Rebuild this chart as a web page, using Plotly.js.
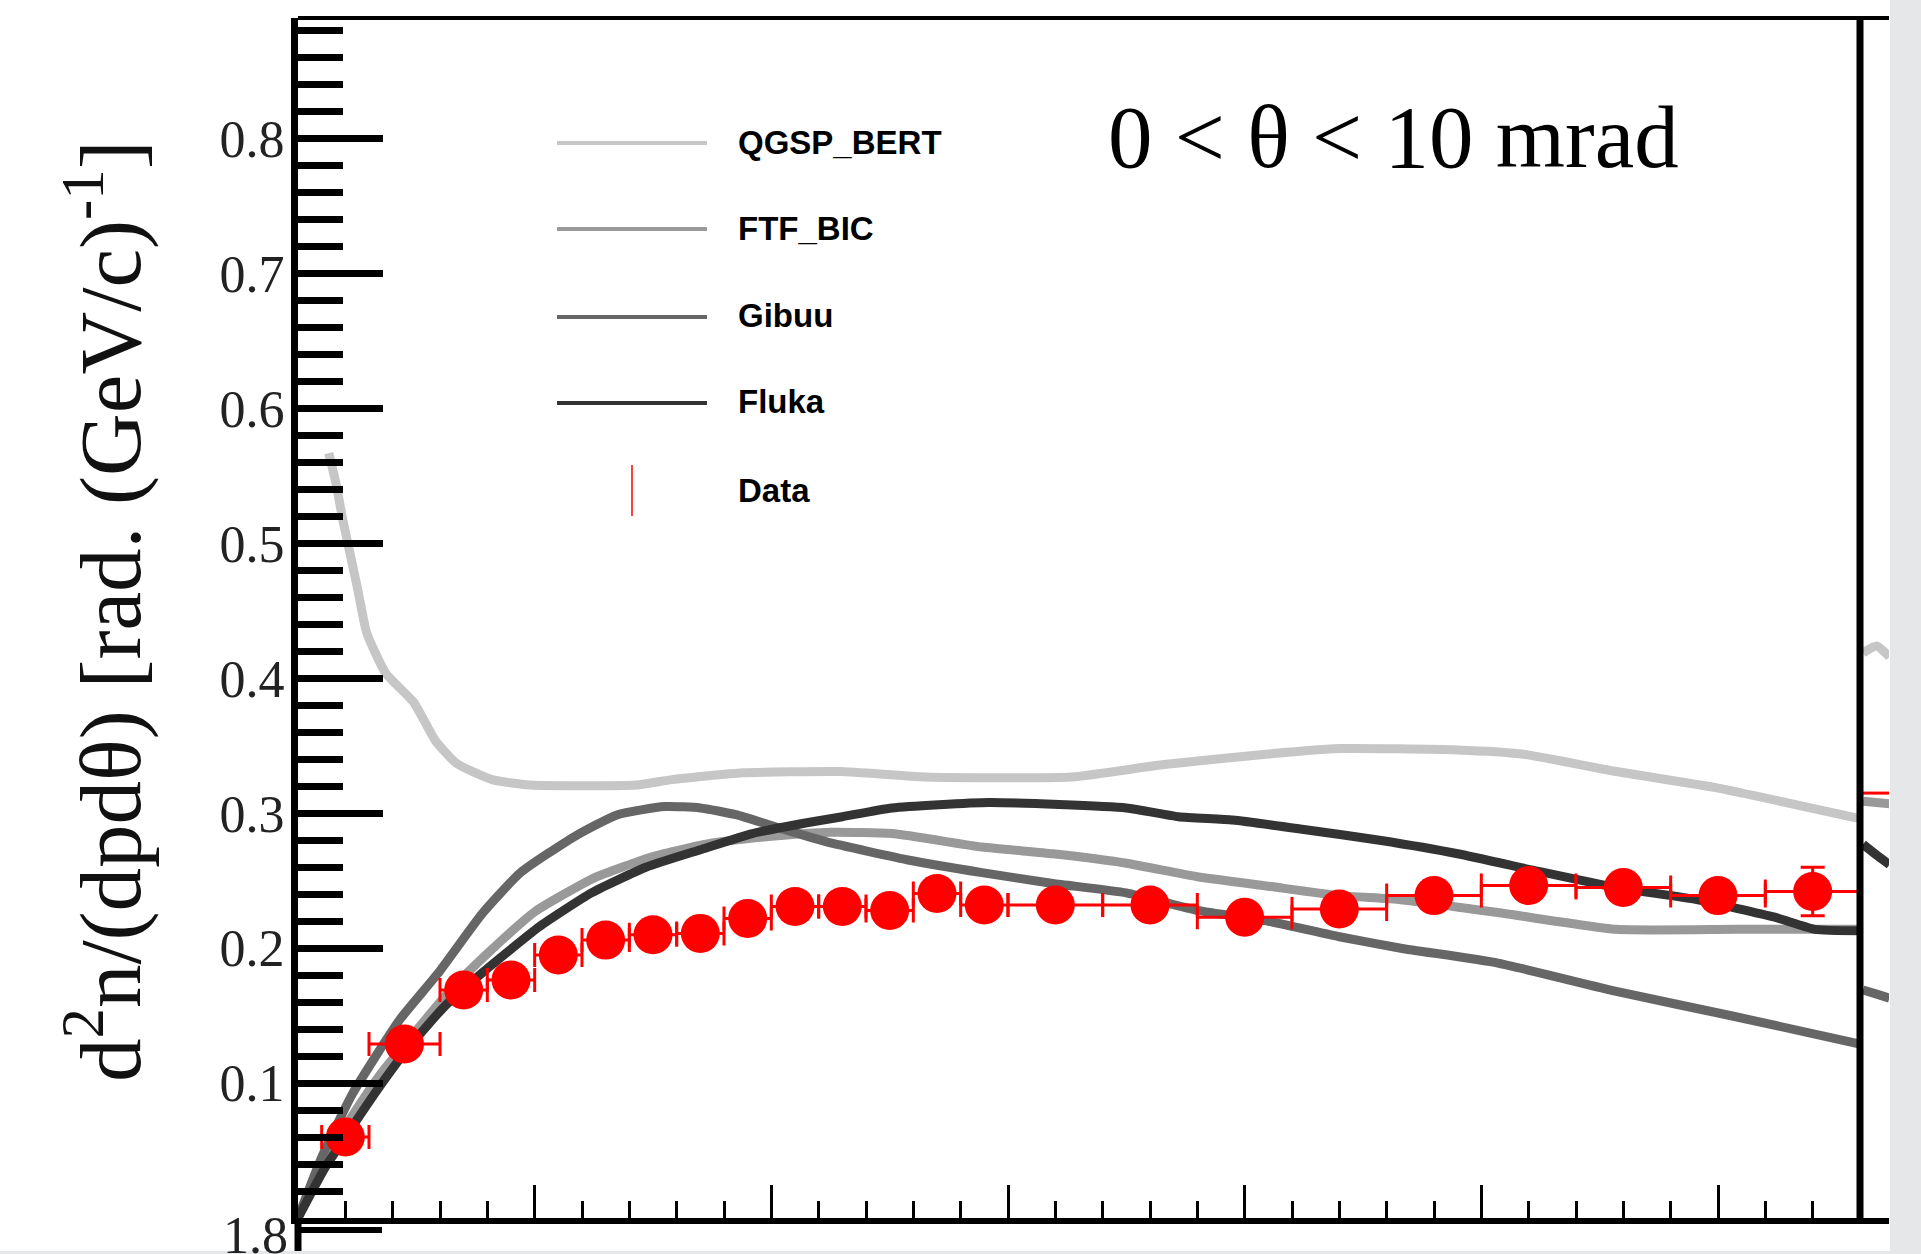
<!DOCTYPE html>
<html>
<head>
<meta charset="utf-8">
<script src="https://cdn.plot.ly/plotly-3.0.1.min.js"></script>
<style>
html, body { margin: 0; padding: 0; background: #ffffff; }
#chart { width: 1921px; height: 1254px; }
</style>
</head>
<body>
<div id="chart"></div>
<script>
// ---------------- data ----------------
const seriesNames = ["QGSP_BERT", "FTF_BIC", "Gibuu", "Fluka", "Data"];
const panelLabel = "0 < θ < 10 mrad";
const yTickVals = [0.1, 0.2, 0.3, 0.4, 0.5, 0.6, 0.7, 0.8];
const yTickText = ["0.1", "0.2", "0.3", "0.4", "0.5", "0.6", "0.7", "0.8"];
const lowerPanelLabel = "1.8";

const qgspX = [0.13, 0.16, 0.19, 0.25, 0.29, 0.37, 0.49, 0.58, 0.67, 0.82, 0.98, 1.43, 1.58, 1.88, 2.29, 2.65, 3.27, 3.65, 4.10, 4.40, 4.90, 5.17, 5.57, 5.99, 6.60];
const qgspY = [0.567, 0.545, 0.517, 0.468, 0.434, 0.404, 0.382, 0.354, 0.337, 0.325, 0.321, 0.321, 0.325, 0.330, 0.331, 0.327, 0.327, 0.336, 0.344, 0.348, 0.347, 0.344, 0.331, 0.319, 0.296];

const ftfX = [0.0, 0.10, 0.20, 0.35, 0.50, 0.65, 0.80, 1.00, 1.25, 1.50, 1.75, 2.00, 2.25, 2.51, 2.89, 3.19, 3.50, 3.80, 4.10, 4.40, 4.66, 5.07, 5.57, 6.08, 6.60];
const ftfY = [0.0, 0.040, 0.068, 0.107, 0.139, 0.170, 0.196, 0.227, 0.252, 0.268, 0.278, 0.283, 0.286, 0.285, 0.275, 0.270, 0.263, 0.253, 0.246, 0.239, 0.236, 0.2265, 0.214, 0.214, 0.214];

const gibuuX = [0.0, 0.10, 0.23, 0.43, 0.59, 0.78, 0.94, 1.17, 1.35, 1.55, 1.70, 1.85, 2.00, 2.23, 2.59, 2.89, 3.19, 3.50, 3.80, 4.10, 4.40, 4.66, 5.07, 5.57, 6.08, 6.60];
const gibuuY = [0.0, 0.045, 0.092, 0.147, 0.181, 0.226, 0.256, 0.283, 0.299, 0.305, 0.304, 0.299, 0.291, 0.279, 0.265, 0.256, 0.248, 0.241, 0.228, 0.220, 0.2085, 0.200, 0.189, 0.168, 0.149, 0.129];

const flukaX = [0.0, 0.11, 0.20, 0.335, 0.47, 0.62, 0.78, 1.02, 1.24, 1.47, 1.70, 1.92, 2.15, 2.30, 2.51, 2.92, 3.50, 3.72, 3.95, 4.25, 4.57, 4.90, 5.24, 5.57, 5.91, 6.24, 6.41, 6.60];
const flukaY = [0.0, 0.036, 0.060, 0.095, 0.127, 0.157, 0.182, 0.216, 0.241, 0.260, 0.273, 0.285, 0.293, 0.2975, 0.304, 0.308, 0.304, 0.2975, 0.295, 0.288, 0.280, 0.270, 0.257, 0.245, 0.236, 0.223, 0.214, 0.213];

const dataX    = [0.2, 0.45, 0.7, 0.9, 1.1, 1.3, 1.5, 1.7, 1.9, 2.1, 2.3, 2.5, 2.7, 2.9, 3.2, 3.6, 4.0, 4.4, 4.8, 5.2, 5.6, 6.0, 6.4];
const dataY    = [0.060, 0.129, 0.169, 0.1765, 0.195, 0.206, 0.210, 0.211, 0.222, 0.231, 0.231, 0.228, 0.2405, 0.232, 0.232, 0.232, 0.223, 0.229, 0.239, 0.2465, 0.245, 0.239, 0.242];
const dataXErr = [0.1, 0.15, 0.1, 0.1, 0.1, 0.1, 0.1, 0.1, 0.1, 0.1, 0.1, 0.1, 0.1, 0.1, 0.2, 0.2, 0.2, 0.2, 0.2, 0.2, 0.2, 0.2, 0.2];
const dataYErr = [0.005, 0.007, 0.007, 0.007, 0.007, 0.007, 0.007, 0.007, 0.007, 0.007, 0.007, 0.007, 0.007, 0.007, 0.007, 0.007, 0.008, 0.008, 0.008, 0.008, 0.009, 0.009, 0.018];

// fragment of the neighbouring panel visible at the right edge
const nextX        = [0.013, 0.072, 0.127];
const nextQgspY    = [0.419, 0.424, 0.416];
const nextFtfY     = [0.309, 0.308, 0.307];
const nextFlukaY   = [0.277, 0.269, 0.262];
const nextGibuuY   = [0.169, 0.166, 0.163];
const nextDataErrX = [0.0, 0.127];
const nextDataY    = [0.315, 0.315];

// ---------------- styling ----------------
const colQ = "#c6c6c6", colF = "#999999", colG = "#666666", colK = "#333333", colD = "#ff0000";
const W = 1921, H = 1254;
const L = 298, R = 1889, T = 18, B = 1218;
const xSplit = 1860;
const px = v => (v - L) / (R - L);
const py = v => (B - v) / (B - T);

function curve(x, y, color, name, xa) {
  return { type: "scatter", mode: "lines", x: x, y: y, name: name, xaxis: xa || "x", yaxis: "y",
           line: { color: color, width: 9, shape: "spline", smoothing: 0.5 }, hoverinfo: "skip", showlegend: false };
}

const traces = [
  curve(qgspX, qgspY, colQ, seriesNames[0]),
  curve(ftfX, ftfY, colF, seriesNames[1]),
  curve(gibuuX, gibuuY, colG, seriesNames[2]),
  curve(flukaX, flukaY, colK, seriesNames[3]),
  curve(nextX, nextQgspY, colQ, seriesNames[0], "x2"),
  curve(nextX, nextFtfY, colF, seriesNames[1], "x2"),
  curve(nextX, nextFlukaY, colK, seriesNames[3], "x2"),
  curve(nextX, nextGibuuY, colG, seriesNames[2], "x2"),
  { type: "scatter", mode: "lines", x: nextDataErrX, y: nextDataY, xaxis: "x2", yaxis: "y",
    line: { color: colD, width: 3 }, showlegend: false, hoverinfo: "skip" },
  { type: "scatter", mode: "markers", x: dataX, y: dataY, name: seriesNames[4], showlegend: false,
    marker: { color: colD, size: 39, line: { width: 0 } },
    error_x: { type: "data", array: dataXErr, visible: true, color: colD, thickness: 3, width: 12 },
    error_y: { type: "data", array: dataYErr, visible: true, color: colD, thickness: 3, width: 12 } }
];

// ---------------- legend (manual, ROOT-like) ----------------
const legendRowsY = [143, 229, 317, 403, 491];
const legendColors = [colQ, colF, colG, colK];
const shapes = [];
const annotations = [];
for (let i = 0; i < 4; i++) {
  shapes.push({ type: "line", xref: "paper", yref: "paper", x0: px(557), x1: px(707),
                y0: py(legendRowsY[i]), y1: py(legendRowsY[i]), line: { color: legendColors[i], width: 4 } });
}
shapes.push({ type: "line", xref: "paper", yref: "paper", x0: px(632), x1: px(632),
              y0: py(465), y1: py(516), line: { color: colD, width: 1.5 } });
for (let i = 0; i < 5; i++) {
  annotations.push({ xref: "paper", yref: "paper", x: px(736), y: py(legendRowsY[i] - 1),
    xanchor: "left", yanchor: "middle", showarrow: false, text: "<b>" + seriesNames[i] + "</b>",
    font: { family: "Liberation Sans, Arial, sans-serif", size: 33, color: "#000" } });
}

// panel label
annotations.push({ xref: "paper", yref: "paper", x: px(1393), y: py(137), xanchor: "center", yanchor: "middle",
  showarrow: false, text: panelLabel, font: { family: "Liberation Serif, Times New Roman, serif", size: 89, color: "#000" } });

// y-axis title
annotations.push({ xref: "paper", yref: "paper", x: px(104), y: py(611), xanchor: "center", yanchor: "middle",
  showarrow: false, textangle: -90,
  text: "d<sup>2</sup>n/(dpdθ) [rad. (GeV/c)<sup>-1</sup>]",
  font: { family: "Liberation Serif, Times New Roman, serif", size: 87, color: "#111" } });

// label of lower panel peeking in
annotations.push({ xref: "paper", yref: "paper", x: px(290), y: py(1236), xanchor: "right", yanchor: "middle",
  showarrow: false, text: lowerPanelLabel, font: { family: "Liberation Serif, Times New Roman, serif", size: 52, color: "#222" } });

// frame pieces
shapes.push({ type: "line", xref: "paper", yref: "paper", x0: px(L), x1: px(R), y0: py(T), y1: py(T), line: { color: "#000", width: 4 } });
shapes.push({ type: "line", xref: "paper", yref: "paper", x0: px(xSplit), x1: px(xSplit), y0: py(T), y1: py(B), line: { color: "#000", width: 7 } });
shapes.push({ type: "line", xref: "paper", yref: "paper", x0: px(L), x1: px(L), y0: py(B), y1: py(H), line: { color: "#000", width: 7 } });
shapes.push({ type: "line", xref: "paper", yref: "paper", x0: px(L), x1: px(382), y0: py(1230), y1: py(1230), line: { color: "#000", width: 6 } });
// grey page background at the right and bottom edge
shapes.push({ type: "rect", xref: "paper", yref: "paper", x0: px(1890), x1: px(W + 2), y0: py(-2), y1: py(H + 2), fillcolor: "#e5e7e9", line: { width: 0 }, layer: "above" });
shapes.push({ type: "rect", xref: "paper", yref: "paper", x0: px(-2), x1: px(W + 2), y0: py(1251), y1: py(H + 2), fillcolor: "#e5e7e9", line: { width: 0 }, layer: "above" });

const layout = {
  width: W, height: H,
  margin: { l: L, r: W - R, t: T, b: H - B, pad: 0 },
  paper_bgcolor: "#ffffff", plot_bgcolor: "#ffffff",
  showlegend: false,
  xaxis: {
    domain: [0, px(xSplit)], range: [0, 6.6], showline: true, linewidth: 6, linecolor: "#000",
    ticks: "inside", tickmode: "linear", tick0: 0, dtick: 1, ticklen: 33, tickwidth: 3, tickcolor: "#000",
    showticklabels: false, showgrid: false, zeroline: false, fixedrange: true,
    minor: { tickmode: "linear", tick0: 0, dtick: 0.2, ticks: "inside", ticklen: 17, tickwidth: 3, tickcolor: "#000", showgrid: false }
  },
  xaxis2: {
    domain: [px(xSplit), 1], range: [0, 0.125], anchor: "y", showline: true, linewidth: 6, linecolor: "#000",
    ticks: "", showticklabels: false, showgrid: false, zeroline: false, fixedrange: true
  },
  yaxis: {
    range: [0, 0.8896], showline: true, linewidth: 7, linecolor: "#000",
    ticks: "inside", tickmode: "array", tickvals: yTickVals, ticktext: yTickText,
    ticklen: 85, tickwidth: 7, tickcolor: "#000", ticklabelstandoff: -4,
    tickfont: { family: "Liberation Serif, Times New Roman, serif", size: 52, color: "#222" },
    showgrid: false, zeroline: false, fixedrange: true,
    minor: { tickmode: "linear", tick0: 0, dtick: 0.02, ticks: "inside", ticklen: 45, tickwidth: 7, tickcolor: "#000", showgrid: false }
  },
  shapes: shapes,
  annotations: annotations
};

Plotly.newPlot("chart", traces, layout, { displayModeBar: false, staticPlot: true });
</script>
</body>
</html>
